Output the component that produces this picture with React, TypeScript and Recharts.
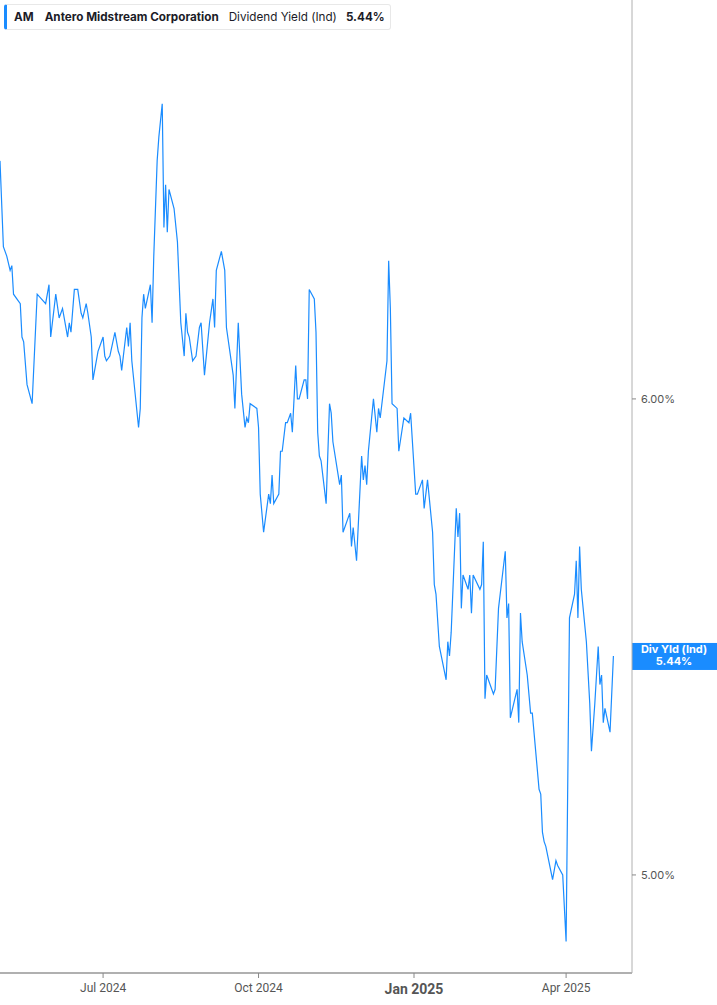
import React from 'react';
import { LineChart, Line, XAxis, YAxis, ReferenceLine } from 'recharts';

// daily dividend yield (%)
const dates = [
  '2024-05-01', '2024-05-03', '2024-05-05', '2024-05-07', '2024-05-08', '2024-05-09', '2024-05-13', '2024-05-14',
  '2024-05-15', '2024-05-17', '2024-05-20', '2024-05-23', '2024-05-28', '2024-05-30', '2024-05-31', '2024-06-03',
  '2024-06-05', '2024-06-07', '2024-06-10', '2024-06-11', '2024-06-12', '2024-06-14', '2024-06-16', '2024-06-18',
  '2024-06-19', '2024-06-21', '2024-06-22', '2024-06-24', '2024-06-25', '2024-06-28', '2024-07-01', '2024-07-02',
  '2024-07-03', '2024-07-05', '2024-07-08', '2024-07-10', '2024-07-11', '2024-07-12', '2024-07-15', '2024-07-16',
  '2024-07-17', '2024-07-18', '2024-07-22', '2024-07-23', '2024-07-24', '2024-07-25', '2024-07-26', '2024-07-29',
  '2024-07-30', '2024-07-31', '2024-08-02', '2024-08-03', '2024-08-05', '2024-08-06', '2024-08-07', '2024-08-08',
  '2024-08-09', '2024-08-12', '2024-08-14', '2024-08-16', '2024-08-18', '2024-08-19', '2024-08-20', '2024-08-21',
  '2024-08-23', '2024-08-25', '2024-08-27', '2024-08-28', '2024-08-30', '2024-09-02', '2024-09-04', '2024-09-05',
  '2024-09-06', '2024-09-09', '2024-09-11', '2024-09-12', '2024-09-16', '2024-09-17', '2024-09-19', '2024-09-21',
  '2024-09-23', '2024-09-24', '2024-09-25', '2024-09-26', '2024-09-30', '2024-10-01', '2024-10-02', '2024-10-04',
  '2024-10-07', '2024-10-08', '2024-10-09', '2024-10-10', '2024-10-13', '2024-10-14', '2024-10-15', '2024-10-17',
  '2024-10-18', '2024-10-20', '2024-10-21', '2024-10-23', '2024-10-24', '2024-10-25', '2024-10-28', '2024-10-29',
  '2024-10-30', '2024-10-31', '2024-11-03', '2024-11-04', '2024-11-05', '2024-11-06', '2024-11-07', '2024-11-10',
  '2024-11-12', '2024-11-13', '2024-11-14', '2024-11-18', '2024-11-19', '2024-11-20', '2024-11-24', '2024-11-25',
  '2024-11-26', '2024-11-28', '2024-12-01', '2024-12-02', '2024-12-03', '2024-12-04', '2024-12-05', '2024-12-08',
  '2024-12-10', '2024-12-11', '2024-12-12', '2024-12-16', '2024-12-17', '2024-12-18', '2024-12-19', '2024-12-22',
  '2024-12-23', '2024-12-26', '2024-12-29', '2024-12-30', '2025-01-02', '2025-01-03', '2025-01-06', '2025-01-07',
  '2025-01-09', '2025-01-12', '2025-01-13', '2025-01-14', '2025-01-16', '2025-01-20', '2025-01-21', '2025-01-22',
  '2025-01-23', '2025-01-26', '2025-01-27', '2025-01-28', '2025-01-29', '2025-01-30', '2025-02-02', '2025-02-03',
  '2025-02-04', '2025-02-05', '2025-02-09', '2025-02-10', '2025-02-11', '2025-02-12', '2025-02-13', '2025-02-17',
  '2025-02-18', '2025-02-20', '2025-02-24', '2025-02-25', '2025-02-26', '2025-02-27', '2025-03-03', '2025-03-04',
  '2025-03-05', '2025-03-06', '2025-03-09', '2025-03-11', '2025-03-12', '2025-03-13', '2025-03-16', '2025-03-17',
  '2025-03-18', '2025-03-19', '2025-03-20', '2025-03-24', '2025-03-26', '2025-03-27', '2025-03-30', '2025-04-01',
  '2025-04-03', '2025-04-06', '2025-04-07', '2025-04-08', '2025-04-09', '2025-04-10', '2025-04-13', '2025-04-15',
  '2025-04-16', '2025-04-18', '2025-04-20', '2025-04-21', '2025-04-22', '2025-04-23', '2025-04-24', '2025-04-27',
  '2025-04-29',
];

const yields = [
  6.50, 6.32, 6.30, 6.27, 6.28, 6.22, 6.20, 6.13,
  6.12, 6.03, 5.99, 6.22, 6.20, 6.24, 6.13, 6.22,
  6.17, 6.19, 6.13, 6.16, 6.14, 6.23, 6.23, 6.18,
  6.17, 6.20, 6.18, 6.13, 6.04, 6.10, 6.13, 6.09,
  6.08, 6.09, 6.14, 6.10, 6.09, 6.06, 6.15, 6.11,
  6.16, 6.08, 5.94, 5.98, 6.17, 6.22, 6.19, 6.24,
  6.16, 6.30, 6.50, 6.55, 6.62, 6.36, 6.45, 6.35,
  6.44, 6.40, 6.33, 6.16, 6.09, 6.18, 6.14, 6.13,
  6.08, 6.09, 6.15, 6.16, 6.05, 6.16, 6.21, 6.15,
  6.27, 6.31, 6.27, 6.15, 6.05, 5.98, 6.16, 6.01,
  5.94, 5.96, 5.95, 5.99, 5.98, 5.94, 5.80, 5.72,
  5.80, 5.78, 5.84, 5.78, 5.80, 5.89, 5.89, 5.95,
  5.95, 5.97, 5.93, 6.07, 6.00, 6.00, 6.04, 6.04,
  6.00, 6.23, 6.21, 6.14, 5.93, 5.88, 5.87, 5.78,
  5.99, 5.97, 5.91, 5.82, 5.84, 5.72, 5.76, 5.69,
  5.73, 5.66, 5.88, 5.83, 5.86, 5.82, 5.89, 6.00,
  5.93, 5.98, 5.96, 6.08, 6.29, 6.19, 5.99, 5.98,
  5.89, 5.96, 5.95, 5.97, 5.80, 5.80, 5.83, 5.77,
  5.83, 5.72, 5.61, 5.59, 5.48, 5.41, 5.49, 5.46,
  5.51, 5.77, 5.71, 5.76, 5.56, 5.63, 5.60, 5.63,
  5.55, 5.63, 5.60, 5.61, 5.70, 5.37, 5.42, 5.38,
  5.39, 5.56, 5.68, 5.54, 5.57, 5.33, 5.39, 5.32,
  5.55, 5.49, 5.42, 5.34, 5.34, 5.30, 5.18, 5.17,
  5.09, 5.07, 5.06, 4.99, 5.03, 5.02, 5.00, 4.86,
  5.54, 5.59, 5.66, 5.54, 5.69, 5.60, 5.49, 5.36,
  5.26, 5.36, 5.48, 5.40, 5.42, 5.32, 5.35, 5.30,
  5.46,
];

const xTickDates = ['2024-07-01', '2024-10-01', '2025-01-01', '2025-04-01'];
const xTickLabels = ['Jul 2024', 'Oct 2024', 'Jan 2025', 'Apr 2025'];
const yTicks = [5, 6];

const BLUE = '#1a8cff';
const W = 717;
const H = 1005;

const data = dates.map((d, i) => ({ t: Date.parse(d), v: yields[i] }));
const xTicks = xTickDates.map(d => Date.parse(d));

const XTick = ({ x, y, payload }: any) => {
  const idx = xTicks.indexOf(payload.value);
  const label = xTickLabels[idx];
  const isYear = label && label.startsWith('Jan');
  return (
    <text
      x={x}
      y={y}
      dy={isYear ? 14 : 12}
      textAnchor="middle"
      fill="#555"
      fontSize={isYear ? 14 : 12}
      fontWeight={isYear ? 700 : 400}
      fontFamily="'Liberation Sans Narrow', 'Roboto', sans-serif"
    >
      {label}
    </text>
  );
};

const ValueTag = ({ viewBox }: any) => {
  if (!viewBox) return null;
  const left = viewBox.x + viewBox.width;
  const cy = viewBox.y;
  return (
    <g>
      <rect x={left} y={cy - 13} width={85} height={27} fill={BLUE} />
      <text x={left + 42} y={cy - 3} textAnchor="middle" fill="#fff" fontSize={11} fontWeight={700} fontFamily="Inter, sans-serif">
        Div Yld (Ind)
      </text>
      <text x={left + 42} y={cy + 9} textAnchor="middle" fill="#fff" fontSize={11} fontWeight={700} fontFamily="Inter, sans-serif">
        5.44%
      </text>
    </g>
  );
};

const Header = () => (
  <div
    style={{
      position: 'absolute',
      left: 4,
      top: 4,
      width: 383,
      height: 24,
      background: '#fff',
      border: '1px solid #e8e8e8',
      borderLeft: `3px solid ${BLUE}`,
      borderRadius: 3,
      display: 'flex',
      alignItems: 'center',
      fontFamily: 'Inter, sans-serif',
      fontSize: 11.7,
      color: '#1c1c28',
      whiteSpace: 'nowrap',
    }}
  >
    <span style={{ fontWeight: 700, marginLeft: 7 }}>AM</span>
    <span style={{ fontWeight: 700, marginLeft: 11 }}>Antero Midstream Corporation</span>
    <span style={{ marginLeft: 10 }}>Dividend Yield (Ind)</span>
    <span style={{ fontWeight: 700, marginLeft: 9 }}>5.44%</span>
  </div>
);

export default function App() {
  const last = yields[yields.length - 1];
  return (
    <div style={{ position: 'absolute', left: 0, top: 0, width: W, height: H, background: '#fff' }}>
      <LineChart width={W} height={H} data={data} margin={{ top: 0, right: 0, bottom: 0, left: 0 }}>
        <XAxis
          dataKey="t"
          type="number"
          domain={[Date.parse('2024-05-01'), Date.parse('2025-05-10')]}
          ticks={xTicks}
          tick={<XTick />}
          height={32}
          axisLine={{ stroke: '#b0b0b0', strokeWidth: 2 }}
          tickLine={{ stroke: '#888' }}
          tickSize={5}
        />
        <YAxis
          orientation="right"
          width={85}
          domain={[4.794, 6.838]}
          ticks={yTicks}
          allowDataOverflow
          tickFormatter={(v: number) => `${v.toFixed(2)}%`}
          tick={{ fill: '#555', fontSize: 11, fontFamily: 'Inter, sans-serif' }}
          axisLine={{ stroke: '#b0b0b0' }}
          tickLine={{ stroke: '#888' }}
          tickSize={4}
          tickMargin={5}
        />
        <Line
          type="linear"
          dataKey="v"
          stroke={BLUE}
          strokeWidth={1.2}
          dot={false}
          activeDot={false}
          isAnimationActive={false}
        />
        <ReferenceLine y={last} stroke="none" ifOverflow="visible" label={<ValueTag />} />
      </LineChart>
      <Header />
    </div>
  );
}
